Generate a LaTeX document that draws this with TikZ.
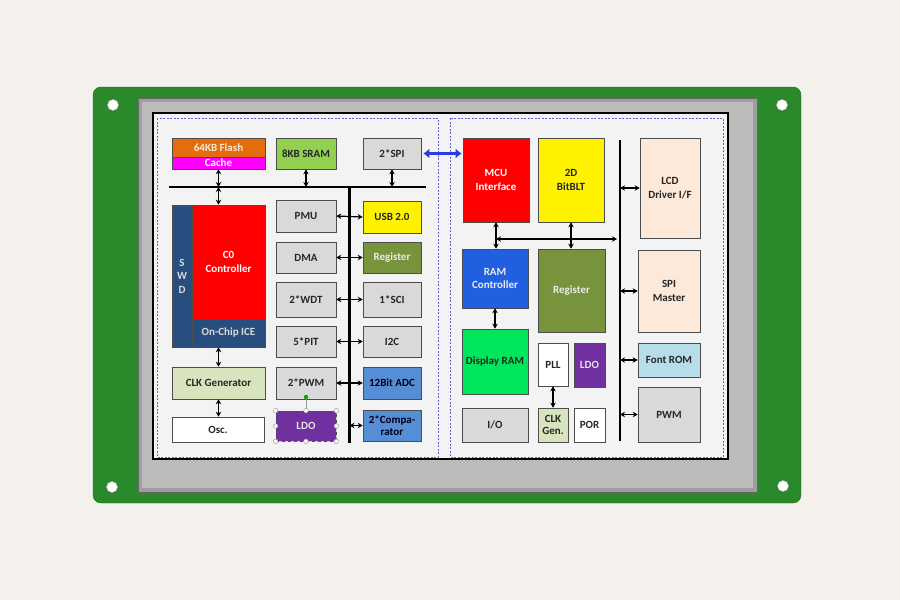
\documentclass[tikz,border=0pt]{standalone}
\usepackage{fontspec}
\setmainfont{Carlito}
\usepackage{xcolor}
\usetikzlibrary{arrows.meta, shadows}
\definecolor{paper}{RGB}{244,241,236}
\definecolor{pcbgreen}{RGB}{42,137,42}
\definecolor{pcbdark}{RGB}{28,104,28}
\definecolor{framegray}{RGB}{158,158,158}
\definecolor{framelight}{RGB}{188,188,188}
\definecolor{panel}{RGB}{243,243,243}
\definecolor{dashblue}{RGB}{100,100,210}
\definecolor{boxgray}{RGB}{217,217,217}
\definecolor{flashorange}{RGB}{228,108,10}
\definecolor{cachemag}{RGB}{255,0,255}
\definecolor{sramgreen}{RGB}{146,208,80}
\definecolor{olive}{RGB}{119,147,60}
\definecolor{adcblue}{RGB}{85,142,213}
\definecolor{ldopurple}{RGB}{112,48,160}
\definecolor{swdblue}{RGB}{38,79,128}
\definecolor{clkgreen}{RGB}{215,228,189}
\definecolor{peach}{RGB}{253,233,217}
\definecolor{fontblue}{RGB}{183,221,232}
\definecolor{ramblue}{RGB}{32,96,224}
\definecolor{dramgreen}{RGB}{0,230,92}
\definecolor{linkblue}{RGB}{40,60,225}

\begin{document}
\begin{tikzpicture}[x=1pt, y=-1pt,
    blk/.style={draw=black!70, line width=0.6pt, inner sep=1pt, align=center,
        font=\fontsize{11}{13.5}\selectfont\bfseries, text=black!85,
        drop shadow={shadow xshift=1.2pt, shadow yshift=-1.2pt, opacity=0.3}},
    sz/.style 2 args={minimum width=#1pt, minimum height=#2pt},
    biarrow/.style={{Stealth[length=5pt,width=5.5pt]}-{Stealth[length=5pt,width=5.5pt]}, line width=1.2pt},
    bus/.style={line width=2.4pt},
    region/.style={draw=dashblue, line width=0.8pt, dash pattern=on 2pt off 1.5pt},
    handle/.style={draw=black!45, fill=white, line width=0.4pt}
]
\useasboundingbox[fill=paper] (0,0) rectangle (900,600);

% board and display
\draw[fill=pcbgreen, draw=pcbdark, rounded corners=8pt] (93,87) rectangle (801,503);
\foreach \hx/\hy in {113/105, 782/105, 112/487, 783/486}
  \draw[fill=white, draw=black!30] (\hx,\hy) circle (5.5);
\draw[fill=framegray, draw=black!60] (138,98) rectangle (757,492);
\fill[framelight] (142,102) rectangle (753,488);
\draw[fill=panel, line width=1.2pt] (153,113) rectangle (728,459);
\draw[region] (157,118) rectangle (438,457);
\draw[region] (450,118) rectangle (723,457);

% left side: MCU core
\node[blk, sz={93}{19}, fill=flashorange, text=peach] (flash) at (218.5,147.5) {64KB Flash};
\node[blk, sz={93}{12}, inner sep=0pt, fill=cachemag, text=white] (cache) at (218.5,163) {Cache};
\node[blk, sz={60}{31}, fill=sramgreen] (sram) at (306,153.5) {8KB SRAM};
\node[blk, sz={58}{31}, fill=boxgray] (spi) at (392,153.5) {2*SPI};
\node[blk, sz={20}{142}, fill=swdblue, text=black!15] (swd) at (182,276) {S\\W\\D};
\node[blk, sz={73}{114}, fill=red, text=white] (c0) at (228.5,262) {C0\\Controller};
\node[blk, sz={73}{28}, fill=swdblue, text=black!15] (ice) at (228.5,333) {On-Chip ICE};
\node[blk, sz={93}{32}, fill=clkgreen] (clkgen) at (218.5,383) {CLK Generator};
\node[blk, sz={92}{25}, fill=white] (osc) at (218,429.5) {Osc.};

\node[blk, sz={60}{32}, fill=boxgray] (pmu) at (306,216) {PMU};
\node[blk, sz={60}{31}, fill=boxgray] (dma) at (306,257.5) {DMA};
\node[blk, sz={60}{35}, fill=boxgray] (wdt) at (306,299.5) {2*WDT};
\node[blk, sz={60}{31}, fill=boxgray] (pit) at (306,341.5) {5*PIT};
\node[blk, sz={60}{32}, fill=boxgray] (pwm) at (306,383) {2*PWM};
\node[blk, sz={60}{30}, fill=ldopurple, text=black!10, dashed] (ldo) at (306,426) {LDO};

\node[blk, sz={58}{32}, fill=yellow] (usb) at (392,217) {USB 2.0};
\node[blk, sz={58}{31}, fill=olive, text=black!8] (reg) at (392,257.5) {Register};
\node[blk, sz={58}{35}, fill=boxgray] (sci) at (392,299.5) {1*SCI};
\node[blk, sz={58}{31}, fill=boxgray] (i2c) at (392,341.5) {I2C};
\node[blk, sz={58}{32}, fill=adcblue, text=black!90!blue] (adc) at (392,383) {12Bit ADC};
\node[blk, sz={58}{31}, inner sep=0pt, fill=adcblue, text=black!90!blue,
  font=\fontsize{11}{12}\selectfont\bfseries] (cmp) at (392,425.5) {2*Compa-\\rator};

% left buses
\coordinate (lbusW) at (169,187);
\coordinate (lbusE) at (426,187);
\coordinate (lbusB) at (349.5,443);
\draw[bus] (lbusW) -- (lbusE);
\draw[bus] (lbusB |- lbusW) -- (lbusB);
\draw[biarrow] (cache.south) -- (cache.south |- lbusW);
\draw[biarrow] (cache.south |- lbusW) -- (cache.south |- c0.north);
\draw[biarrow] (sram.south) -- (sram.south |- lbusW);
\draw[biarrow] (spi.south) -- (spi.south |- lbusW);
\draw[biarrow] (clkgen.north |- ice.south) -- (clkgen.north);
\draw[biarrow] (clkgen.south) -- (clkgen.south |- osc.north);
\foreach \l/\r in {pmu/usb, dma/reg, wdt/sci, pit/i2c, pwm/adc}
  \draw[biarrow] (\l.east) -- (\r.west);
\draw[biarrow] (cmp.west -| lbusB) -- (cmp.west);

% selection handles on LDO
\coordinate (rot) at (306,397);
\draw[black!40, line width=0.4pt] (rot) -- (ldo.north);
\fill[green!65!black] (rot) circle (2.2);
\foreach \a in {north west, north, north east, east, south east, south, south west, west}
  \draw[handle] (ldo.\a) circle (2.3);

% right side: display controller
\node[blk, sz={66}{84}, fill=red, text=white] (mcu) at (496,180) {MCU\\Interface};
\node[blk, sz={66}{84}, fill=yellow] (bitblt) at (571,180) {2D\\BitBLT};
\node[blk, sz={60}{100}, fill=peach] (lcd) at (670,188) {LCD\\Driver I/F};
\node[blk, sz={62}{82}, fill=peach] (spim) at (669,291) {SPI\\Master};
\node[blk, sz={62}{34}, fill=fontblue] (font) at (669,360) {Font ROM};
\node[blk, sz={62}{55}, fill=boxgray] (pwmr) at (669,414.5) {PWM};
\node[blk, sz={66}{59}, fill=ramblue, text=black!8] (ramc) at (495,278.5) {RAM\\Controller};
\node[blk, sz={67}{83}, fill=olive, text=black!8] (regr) at (571.5,290.5) {Register};
\node[blk, sz={66}{65}, fill=dramgreen] (dram) at (495,361.5) {Display RAM};
\node[blk, sz={30}{43}, fill=white] (pll) at (553,364.5) {PLL};
\node[blk, sz={31}{44}, fill=ldopurple, text=black!10] (ldor) at (589.5,365) {LDO};
\node[blk, sz={30}{34}, inner sep=0pt, fill=clkgreen,
  font=\fontsize{11}{12}\selectfont\bfseries] (clkg) at (553,425) {CLK\\Gen.};
\node[blk, sz={31}{34}, fill=white] (por) at (589.5,425) {POR};
\node[blk, sz={66}{34}, fill=boxgray] (io) at (495,425) {I/O};

% right buses
\coordinate (rbusT) at (620,140);
\coordinate (rbusB) at (620,441);
\coordinate (rhb) at (617,239);
\draw[bus] (rbusT) -- (rbusB);
\draw[biarrow] (mcu.south |- rhb) -- (rhb);
\draw[biarrow] (mcu.south) -- (mcu.south |- ramc.north);
\draw[biarrow] (bitblt.south) -- (bitblt.south |- regr.north);
\draw[biarrow] (ramc.south) -- (dram.north);
\draw[biarrow] (pll.south) -- (clkg.north);
\foreach \n in {lcd, spim, font, pwmr}
  \draw[biarrow] (\n.west -| rbusT) -- (\n.west);

% link between the two chips
\draw[{Latex[length=6pt,width=10pt]}-{Latex[length=6pt,width=10pt]}, line width=3pt, linkblue,
  shorten <=2pt, shorten >=1pt] (spi.east) -- (spi.east -| mcu.west);
\end{tikzpicture}
\end{document}
